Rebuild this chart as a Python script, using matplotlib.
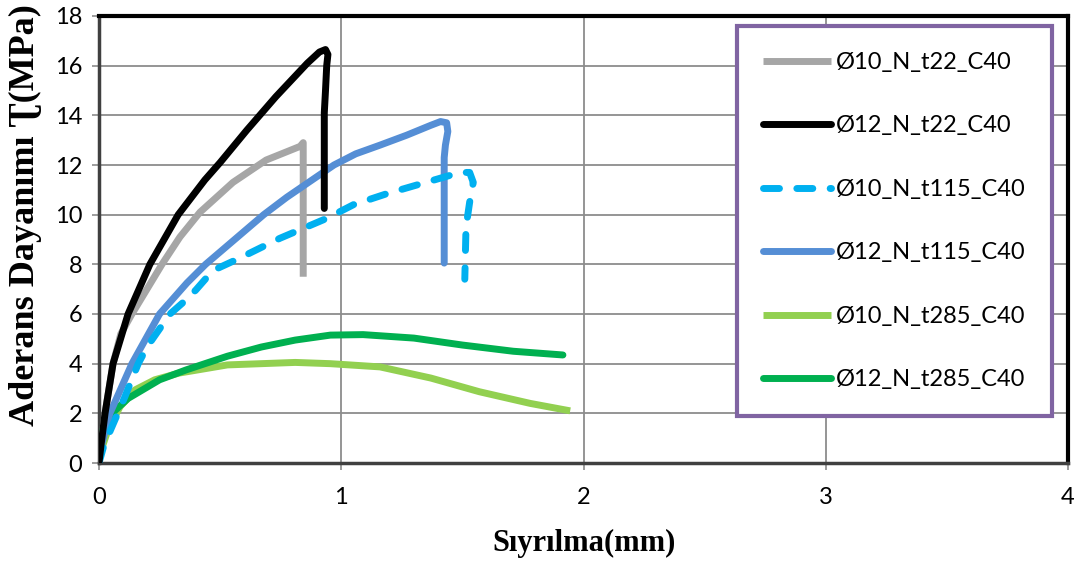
import matplotlib
matplotlib.use("Agg")
import matplotlib.pyplot as plt

# Data
x_d10_t22 = [0, 0.008, 0.025, 0.058, 0.09, 0.136, 0.26, 0.334, 0.417, 0.553, 0.69, 0.83, 0.843, 0.843]
y_d10_t22 = [0, 0.7, 2.0, 4.0, 5.2, 6.0, 8.0, 9.1, 10.1, 11.3, 12.2, 12.75, 12.9, 7.5]

x_d12_t22 = [0, 0.008, 0.025, 0.058, 0.12, 0.21, 0.327, 0.437, 0.50, 0.61, 0.73, 0.86, 0.91, 0.935,
             0.945, 0.94, 0.935, 0.93, 0.93]
y_d12_t22 = [0, 0.7, 2.0, 4.0, 6.0, 8.0, 10.0, 11.4, 12.1, 13.4, 14.75, 16.1, 16.55, 16.65,
             16.45, 16.0, 15.0, 14.1, 10.25]

x_d10_t115 = [0, 0.02, 0.107, 0.162, 0.20, 0.293, 0.363, 0.40, 0.47, 0.57, 0.747, 0.94, 1.05,
              1.19, 1.42, 1.49, 1.53, 1.545, 1.53, 1.515, 1.51]
y_d10_t115 = [0, 0.7, 2.67, 4.0, 4.7, 6.0, 6.6, 6.97, 7.75, 8.2, 9.05, 9.85, 10.4,
              10.85, 11.5, 11.7, 11.7, 11.3, 10.5, 9.5, 7.4]

x_d12_t115 = [0, 0.01, 0.045, 0.136, 0.25, 0.363, 0.44, 0.68, 0.775, 0.97, 1.06, 1.16, 1.27,
              1.37, 1.41, 1.435, 1.44, 1.43, 1.425, 1.425]
y_d12_t115 = [0, 0.7, 2.0, 4.0, 6.0, 7.25, 8.0, 10.0, 10.7, 12.0, 12.45, 12.8, 13.2,
              13.6, 13.75, 13.7, 13.35, 12.8, 12.3, 8.05]

x_d10_t285 = [0, 0.005, 0.037, 0.087, 0.15, 0.23, 0.33, 0.53, 0.81, 0.955, 1.16, 1.37, 1.57, 1.78, 1.945]
y_d10_t285 = [0, 0.4, 1.33, 2.27, 2.95, 3.35, 3.62, 3.95, 4.05, 4.0, 3.87, 3.42, 2.87, 2.4, 2.1]

x_d12_t285 = [0, 0.004, 0.037, 0.12, 0.25, 0.36, 0.53, 0.67, 0.81, 0.955, 1.09, 1.3, 1.5, 1.71, 1.915]
y_d12_t285 = [0, 1.05, 1.85, 2.6, 3.35, 3.75, 4.3, 4.67, 4.95, 5.15, 5.17, 5.03, 4.75, 4.5, 4.35]

labels = ["Ø10_N_t22_C40", "Ø12_N_t22_C40", "Ø10_N_t115_C40",
          "Ø12_N_t115_C40", "Ø10_N_t285_C40", "Ø12_N_t285_C40"]
colors = ["#A6A6A6", "#000000", "#00B0F0", "#558ED5", "#92D050", "#00B050"]

x_ticks = [0, 1, 2, 3, 4]
y_ticks = [0, 2, 4, 6, 8, 10, 12, 14, 16, 18]

fig = plt.figure(figsize=(10.86, 5.65), dpi=100)
ax = fig.add_axes([99/1086, 1-463/565, (1068-99)/1086, (463-16)/565])

series = [(x_d10_t22, y_d10_t22), (x_d12_t22, y_d12_t22), (x_d10_t115, y_d10_t115),
          (x_d12_t115, y_d12_t115), (x_d10_t285, y_d10_t285), (x_d12_t285, y_d12_t285)]
order = [4, 5, 0, 3, 2, 1]
handles = [None]*6
for i in order:
    xs, ys = series[i]
    kw = dict(color=colors[i], lw=5, solid_capstyle='round', solid_joinstyle='round', zorder=3)
    if i in (0, 4):
        kw['solid_capstyle'] = 'butt'
    if i == 2:
        kw.update(ls=(0, (2.3, 2.5)), dash_capstyle='round', dash_joinstyle='round')
    h, = ax.plot(xs, ys, label=labels[i], **kw)
    handles[i] = h

ax.set_xlim(0, 4)
ax.set_ylim(0, 18)
ax.set_xticks(x_ticks)
ax.set_yticks(y_ticks)
ax.grid(True, color="#8C8C8C", lw=1.3, zorder=0)
ax.tick_params(direction='out', length=5, width=1.2, color="#8C8C8C", labelsize=17)
ax.tick_params(axis='x', pad=12)
ax.tick_params(axis='y', pad=7)
for lab in ax.get_xticklabels() + ax.get_yticklabels():
    lab.set_fontfamily("Lato")

for s in ['top', 'right']:
    ax.spines[s].set_color('black')
    ax.spines[s].set_linewidth(3)
for s in ['left', 'bottom']:
    ax.spines[s].set_color('#404040')
    ax.spines[s].set_linewidth(2.5)

serif = ['Liberation Serif', 'DejaVu Serif']
fig.text(584/1086, 1-543/565, "Sıyrılma(mm)", fontsize=22, fontweight='bold',
         family=serif, ha='center', va='center')
fig.text(25/1086, 1-215/565, "Aderans Dayanımı Ʈ(MPa)", fontsize=26, fontweight='bold',
         family=serif, ha='center', va='center', rotation=90)

leg = ax.legend(handles=handles, labels=labels, loc='upper left',
                bbox_to_anchor=((737-99)/969, 1-(26-16)/447),
                prop={'family': 'Lato', 'size': 17}, frameon=True, fancybox=False,
                handlelength=2.9, handletextpad=0.2, labelspacing=1.8,
                borderpad=1.1, borderaxespad=0)
leg.get_frame().set_edgecolor('#8064A2')
leg.get_frame().set_linewidth(3)
leg.get_frame().set_alpha(1)

fig.savefig("out.png", dpi=100)
